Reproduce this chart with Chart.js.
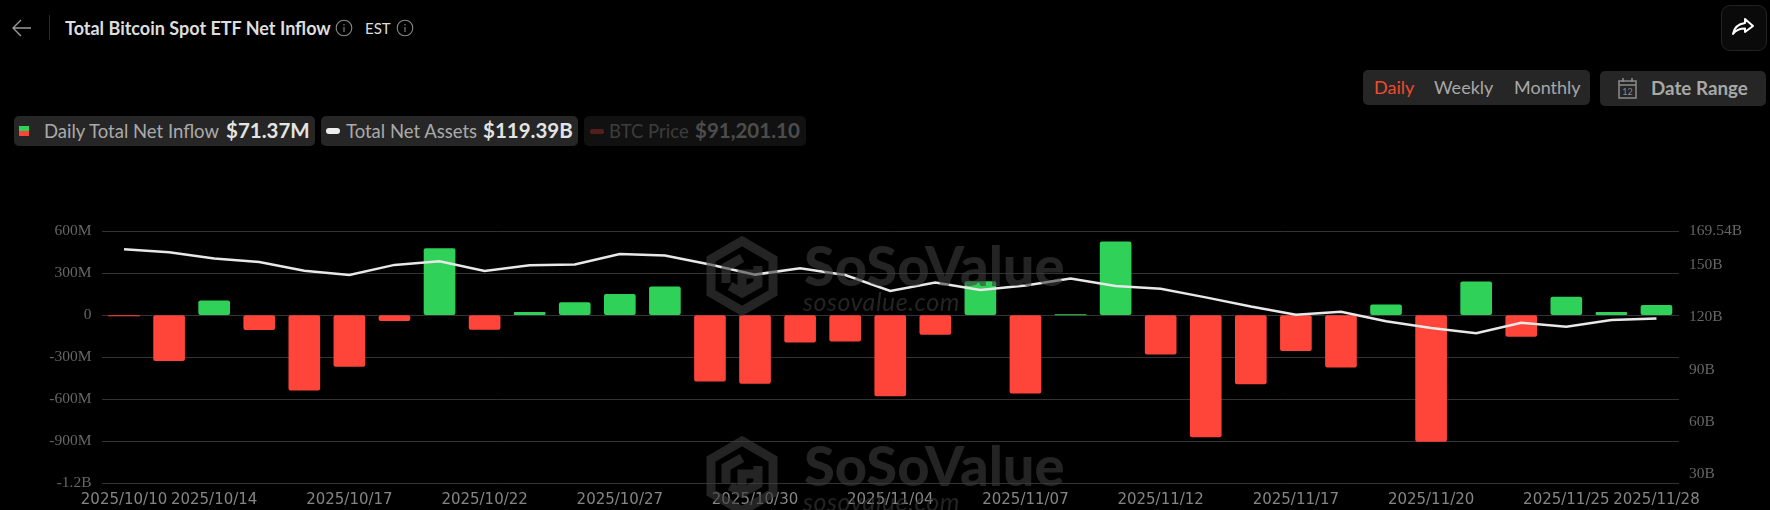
<!DOCTYPE html>
<html>
<head>
<meta charset="utf-8">
<title>Total Bitcoin Spot ETF Net Inflow</title>
<script src="https://cdn.jsdelivr.net/npm/chart.js@4"></script>
<style>
html, body { margin: 0; padding: 0; background: #000; }
body { width: 1770px; height: 510px; position: relative; overflow: hidden; font-family: Lato, sans-serif; color: #ddd; }
.abs { position: absolute; white-space: nowrap; }
.pill { position: absolute; top: 116px; height: 30px; background: #262626; border-radius: 5px; }
.name { font-size: 18.5px; color: #aaa; top: 120px; }
.val { font-size: 20.5px; font-weight: 700; color: #e4e4e4; top: 118px; }
.dim { opacity: .28; }
#chartBox { position: absolute; left: 0; top: 212px; width: 1770px; height: 298px; }
.mark { position: absolute; pointer-events: none; color: rgba(60,60,60,.6); }
</style>
</head>
<body>

<svg class="abs" style="left:11px;top:18px" width="21" height="20" viewBox="0 0 21 20" fill="none" stroke="#999" stroke-width="1.4"><path d="M20 10H2M10 2l-8 8 8 8"/></svg>
<div class="abs" style="left:49px;top:15px;width:1px;height:25px;background:#2a2a2a"></div>
<div class="abs" style="left:65px;top:17px;font-size:18px;font-weight:700;color:#ddd">Total Bitcoin Spot ETF Net Inflow</div>
<svg class="abs" style="left:335px;top:19px" width="18" height="18" viewBox="0 0 18 18" fill="none" stroke="#888" stroke-width="1.1"><circle cx="9" cy="9" r="7.8"/><path d="M9 8v5M9 5v1.4"/></svg>
<div class="abs" style="left:365px;top:19px;font-size:15px;color:#ddd">EST</div>
<svg class="abs" style="left:396px;top:19px" width="18" height="18" viewBox="0 0 18 18" fill="none" stroke="#888" stroke-width="1.1"><circle cx="9" cy="9" r="7.8"/><path d="M9 8v5M9 5v1.4"/></svg>

<div class="abs" style="left:1721px;top:5px;width:44px;height:44px;border:1px solid #222;border-radius:9px;background:#0a0a0a"></div>
<svg class="abs" style="left:1731px;top:16px" width="24" height="22" viewBox="0 0 24 22" fill="none" stroke="#fff" stroke-width="2" stroke-linejoin="round"><path d="M14 3l8 7-8 6v-3.500c-5 0-9 1.500-12 5.500 1-6 5-10 12-11z"/></svg>

<div class="abs" style="left:1363px;top:70px;width:227px;height:35px;background:#262626;border-radius:5px"></div>
<div class="abs" style="left:1374px;top:76px;font-size:18px;color:#f04a2b">Daily</div>
<div class="abs" style="left:1434px;top:76px;font-size:18px;color:#a8a8a8">Weekly</div>
<div class="abs" style="left:1514px;top:76px;font-size:18px;color:#a8a8a8">Monthly</div>
<div class="abs" style="left:1600px;top:71px;width:166px;height:35px;background:#262626;border-radius:5px"></div>
<svg class="abs" style="left:1617px;top:77px" width="21" height="22" viewBox="0 0 21 22" fill="none" stroke="#8c8c8c" stroke-width="1.5"><rect x="2" y="4" width="17" height="17"/><path d="M2 8h17M6 1v4M15 1v4"/><text x="10.500" y="18" font-size="9" text-anchor="middle" fill="#8c8c8c" stroke="none" font-family="Lato">12</text></svg>
<div class="abs" style="left:1651px;top:76px;font-size:18.800px;font-weight:700;color:#a8a8a8">Date Range</div>

<div class="pill" style="left:14px;width:301px"></div>
<div class="abs" style="left:19px;top:126px;width:10px;height:5px;background:#30d158"></div>
<div class="abs" style="left:19px;top:131px;width:10px;height:5px;background:#ff453a"></div>
<div class="abs name" style="left:44px">Daily Total Net Inflow</div>
<div class="abs val" style="left:226px">$71.37M</div>

<div class="pill" style="left:321px;width:257px"></div>
<div class="abs" style="left:326px;top:128px;width:14px;height:6px;border-radius:3px;background:#eee"></div>
<div class="abs name" style="left:346px">Total Net Assets</div>
<div class="abs val" style="left:483px">$119.39B</div>

<div class="pill" style="left:584px;width:222px;background:#111"></div>
<div class="abs dim" style="left:590px;top:129px;width:14px;height:5px;border-radius:2px;background:#ff453a"></div>
<div class="abs name dim" style="left:609px">BTC Price</div>
<div class="abs val dim" style="left:695px">$91,201.10</div>

<div id="chartBox"><canvas id="etfChart"></canvas></div>

<svg class="mark" style="left:706px;top:236px" width="72" height="80" viewBox="0 0 72 80" fill="none" stroke="rgba(60,60,60,.6)" stroke-width="9"><path d="M36 5l31 18v34L36 75 5 57V23z"/><path d="M36 22L20 31v16M52 30v18L36 57 24 50M36 56V38h16"/></svg>
<div class="mark" style="left:804px;top:237px;font-size:56px;font-weight:900;line-height:56px">SoSoValue</div>
<div class="mark" style="left:803px;top:287px;font-size:25px;font-style:italic;line-height:28px;letter-spacing:.5px">sosovalue.com</div>
<svg class="mark" style="left:706px;top:436px" width="72" height="80" viewBox="0 0 72 80" fill="none" stroke="rgba(60,60,60,.6)" stroke-width="9"><path d="M36 5l31 18v34L36 75 5 57V23z"/><path d="M36 22L20 31v16M52 30v18L36 57 24 50M36 56V38h16"/></svg>
<div class="mark" style="left:804px;top:437px;font-size:56px;font-weight:900;line-height:56px">SoSoValue</div>
<div class="mark" style="left:803px;top:487px;font-size:25px;font-style:italic;line-height:28px;letter-spacing:.5px">sosovalue.com</div>

<script>
const dates = ["2025/10/10","2025/10/13","2025/10/14","2025/10/15","2025/10/16","2025/10/17","2025/10/20","2025/10/21","2025/10/22","2025/10/23","2025/10/24","2025/10/27","2025/10/28","2025/10/29","2025/10/30","2025/10/31","2025/11/03","2025/11/04","2025/11/05","2025/11/06","2025/11/07","2025/11/10","2025/11/11","2025/11/12","2025/11/13","2025/11/14","2025/11/17","2025/11/18","2025/11/19","2025/11/20","2025/11/21","2025/11/24","2025/11/25","2025/11/26","2025/11/28"];
const shownDates = ["2025/10/10","2025/10/14","2025/10/17","2025/10/22","2025/10/27","2025/10/30","2025/11/04","2025/11/07","2025/11/12","2025/11/17","2025/11/20","2025/11/25","2025/11/28"];
// million USD
const netInflow = [-4.5,-326,102,-104,-536,-366,-40,477,-101,20,91,149,202,-471,-488,-192,-186,-578,-137,240,-558,1.2,524,-278,-870,-492,-254,-372,75,-903,238,-151,129,21,71.37];
// billion USD
const netAssets = [159.2,157.5,153.9,151.8,146.8,144.4,150.2,152.3,146.7,150,150.4,156.5,155.6,150.4,144.6,148.3,144.4,135.2,140,135.8,138.3,142.3,138.1,136.4,131.5,126.2,121.5,123.2,117.7,113.8,110.8,116.9,114.6,118.5,119.39];
const rightTicks = [30,60,90,120,150,169.54];

const GREEN = "#30d158";
const RED = "#ff453a";

function leftLabel(v) {
    if (v === 0) return "0";
    if (Math.abs(v) >= 1000) return (v / 1000) + "B";
    return v + "M";
}

document.addEventListener("DOMContentLoaded", function() {
    const ctx = document.getElementById("etfChart").getContext("2d");
    new Chart(ctx, {
        type: "bar",
        data: {
            labels: dates,
            datasets: [{
                type: "line",
                label: "Total Net Assets",
                data: netAssets,
                yAxisID: "yRight",
                borderColor: "#e8e8e8",
                borderWidth: 2.5,
                pointRadius: 0,
                tension: 0,
                order: 0
            }, {
                type: "bar",
                label: "Daily Total Net Inflow",
                data: netInflow,
                yAxisID: "yLeft",
                backgroundColor: netInflow.map(v => v >= 0 ? GREEN : RED),
                borderRadius: 2,
                borderSkipped: false,
                barThickness: 31,
                order: 1
            }]
        },
        options: {
            responsive: true,
            maintainAspectRatio: false,
            animation: false,
            plugins: { legend: { display: false }, tooltip: { enabled: false } },
            scales: {
                x: {
                    grid: { display: false },
                    border: { display: false },
                    afterFit: axis => { axis.height = 27; },
                    ticks: {
                        autoSkip: false,
                        maxRotation: 0,
                        minRotation: 0,
                        padding: 0,
                        color: "#858585",
                        font: { family: "DejaVu Sans", size: 15 },
                        callback: function(value) {
                            const d = this.getLabelForValue(value);
                            return shownDates.includes(d) ? d : "";
                        }
                    }
                },
                yLeft: {
                    position: "left",
                    min: -1200,
                    max: 600,
                    afterFit: axis => { axis.width = 101.5; },
                    grid: { color: "#333", lineWidth: 1, drawTicks: false },
                    border: { display: false },
                    ticks: {
                        stepSize: 300,
                        padding: 10,
                        color: "#666",
                        font: { family: "Liberation Serif", size: 15.5 },
                        callback: leftLabel
                    }
                },
                yRight: {
                    position: "right",
                    min: 24.6,
                    max: 169.54,
                    afterFit: axis => { axis.width = 91; },
                    afterBuildTicks: axis => { axis.ticks = rightTicks.map(v => ({ value: v })); },
                    grid: { display: false, drawTicks: false },
                    border: { display: false },
                    ticks: {
                        padding: 10,
                        color: "#666",
                        font: { family: "Liberation Serif", size: 15.5 },
                        callback: v => v + "B"
                    }
                }
            }
        }
    });
});
</script>
</body>
</html>
